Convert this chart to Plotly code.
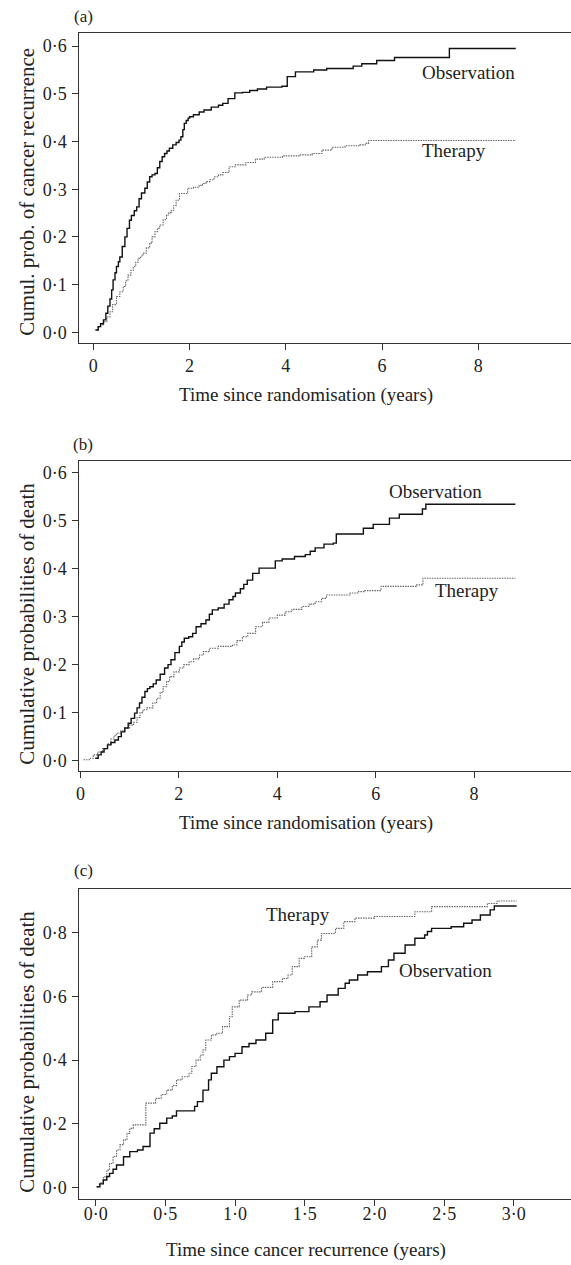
import plotly.graph_objects as go

# ---------------- data ----------------
# Panel (a): cumulative probability of cancer recurrence vs time since randomisation
A_OBS_T = [0.05, 0.10, 0.15, 0.21, 0.26, 0.30, 0.345, 0.38, 0.41, 0.45,
           0.48, 0.52, 0.55, 0.60, 0.655, 0.70, 0.75, 0.79, 0.85, 0.90,
           0.95, 1.00, 1.07, 1.12, 1.17, 1.22, 1.28, 1.33, 1.38, 1.43,
           1.48, 1.53, 1.58, 1.65, 1.72, 1.78, 1.82, 1.86, 1.89, 1.93,
           1.97, 2.00, 2.08, 2.20, 2.30, 2.45, 2.60, 2.69, 2.80, 2.94,
           3.10, 3.25, 3.41, 3.60, 3.92, 4.03, 4.20, 4.58, 4.85, 5.40,
           5.58, 5.89, 6.26, 7.40, 8.78]
A_OBS_P = [0.005, 0.012, 0.018, 0.026, 0.040, 0.055, 0.070, 0.089, 0.110, 0.125,
           0.138, 0.148, 0.158, 0.180, 0.200, 0.218, 0.235, 0.245, 0.255, 0.263,
           0.280, 0.292, 0.302, 0.315, 0.326, 0.330, 0.333, 0.345, 0.358, 0.368,
           0.375, 0.380, 0.386, 0.393, 0.398, 0.403, 0.410, 0.425, 0.438, 0.444,
           0.449, 0.452, 0.456, 0.462, 0.466, 0.472, 0.476, 0.480, 0.490, 0.502,
           0.503, 0.507, 0.510, 0.514, 0.516, 0.536, 0.546, 0.550, 0.553, 0.558,
           0.563, 0.570, 0.576, 0.595, 0.595]
A_THR_T = [0.03, 0.10, 0.15, 0.21, 0.28, 0.345, 0.40, 0.48, 0.55, 0.62,
           0.67, 0.72, 0.78, 0.83, 0.88, 0.93, 0.98, 1.03, 1.10, 1.17,
           1.22, 1.28, 1.33, 1.38, 1.45, 1.52, 1.57, 1.62, 1.67, 1.72,
           1.79, 1.96, 2.08, 2.20, 2.27, 2.34, 2.42, 2.51, 2.60, 2.69,
           2.82, 2.95, 3.17, 3.37, 3.55, 3.93, 4.30, 4.55, 4.75, 4.96,
           5.23, 5.54, 5.65, 5.72, 8.78]
A_THR_P = [0.005, 0.012, 0.016, 0.022, 0.032, 0.043, 0.058, 0.075, 0.085, 0.096,
           0.108, 0.120, 0.130, 0.138, 0.147, 0.155, 0.160, 0.166, 0.177, 0.187,
           0.200, 0.211, 0.218, 0.225, 0.236, 0.246, 0.251, 0.256, 0.266, 0.277,
           0.291, 0.302, 0.304, 0.308, 0.312, 0.316, 0.320, 0.326, 0.330, 0.335,
           0.347, 0.351, 0.356, 0.363, 0.367, 0.370, 0.372, 0.375, 0.382, 0.388,
           0.391, 0.393, 0.396, 0.402, 0.402]

# Panel (b): cumulative probability of death vs time since randomisation
B_OBS_T = [0.30, 0.36, 0.42, 0.48, 0.55, 0.62, 0.70, 0.77, 0.83, 0.90,
           0.97, 1.03, 1.10, 1.15, 1.20, 1.25, 1.31, 1.36, 1.41, 1.48,
           1.54, 1.62, 1.71, 1.78, 1.84, 1.92, 2.01, 2.06, 2.11, 2.20,
           2.28, 2.35, 2.45, 2.55, 2.62, 2.68, 2.80, 2.92, 3.02, 3.10,
           3.15, 3.25, 3.32, 3.39, 3.50, 3.63, 3.96, 4.10, 4.35, 4.57,
           4.67, 4.77, 4.95, 5.14, 5.20, 5.75, 5.95, 6.28, 6.48, 6.95,
           7.02, 8.84]
B_OBS_P = [0.005, 0.012, 0.018, 0.025, 0.033, 0.038, 0.043, 0.050, 0.060, 0.068,
           0.078, 0.088, 0.099, 0.110, 0.120, 0.132, 0.144, 0.150, 0.154, 0.160,
           0.168, 0.180, 0.193, 0.200, 0.210, 0.225, 0.238, 0.247, 0.255, 0.258,
           0.265, 0.279, 0.285, 0.293, 0.305, 0.314, 0.318, 0.326, 0.335, 0.342,
           0.349, 0.358, 0.367, 0.376, 0.390, 0.401, 0.416, 0.420, 0.425, 0.429,
           0.436, 0.443, 0.451, 0.453, 0.472, 0.484, 0.492, 0.505, 0.513, 0.524,
           0.534, 0.534]
B_THR_T = [0.06, 0.20, 0.26, 0.35, 0.45, 0.55, 0.62, 0.68, 0.73, 0.82,
           0.90, 1.00, 1.08, 1.15, 1.21, 1.27, 1.35, 1.47, 1.55, 1.62,
           1.68, 1.75, 1.81, 1.90, 2.01, 2.10, 2.21, 2.30, 2.42, 2.50,
           2.62, 2.80, 3.09, 3.18, 3.29, 3.40, 3.56, 3.70, 3.83, 4.00,
           4.16, 4.30, 4.50, 4.65, 4.77, 4.90, 5.00, 5.48, 5.65, 5.78,
           6.11, 6.82, 6.96, 8.84]
B_THR_P = [0.002, 0.005, 0.012, 0.018, 0.025, 0.035, 0.045, 0.052, 0.057, 0.062,
           0.068, 0.074, 0.080, 0.090, 0.100, 0.106, 0.110, 0.120, 0.130, 0.142,
           0.154, 0.165, 0.175, 0.185, 0.193, 0.200, 0.206, 0.212, 0.220, 0.227,
           0.234, 0.238, 0.241, 0.250, 0.258, 0.265, 0.279, 0.288, 0.297, 0.303,
           0.310, 0.315, 0.321, 0.326, 0.331, 0.338, 0.345, 0.349, 0.352, 0.354,
           0.363, 0.366, 0.380, 0.380]

# Panel (c): cumulative probability of death vs time since cancer recurrence
C_OBS_T = [0.007, 0.03, 0.055, 0.08, 0.10, 0.125, 0.15, 0.20, 0.245, 0.30,
           0.34, 0.39, 0.42, 0.46, 0.51, 0.55, 0.58, 0.71, 0.73, 0.77, 0.81,
           0.83, 0.87, 0.92, 0.96, 1.00, 1.05, 1.10, 1.15, 1.22, 1.27,
           1.31, 1.43, 1.53, 1.61, 1.66, 1.74, 1.79, 1.82, 1.88, 1.95,
           2.05, 2.10, 2.14, 2.22, 2.29, 2.36, 2.38, 2.41, 2.55, 2.64,
           2.70, 2.76, 2.83, 2.86, 3.02]
C_OBS_P = [0.003, 0.012, 0.024, 0.035, 0.045, 0.058, 0.071, 0.097, 0.113, 0.118,
           0.129, 0.171, 0.185, 0.202, 0.218, 0.225, 0.241, 0.255, 0.270, 0.306, 0.338,
           0.359, 0.379, 0.400, 0.411, 0.421, 0.442, 0.452, 0.463, 0.484, 0.526,
           0.547, 0.552, 0.567, 0.583, 0.604, 0.625, 0.641, 0.651, 0.667, 0.677,
           0.693, 0.714, 0.735, 0.761, 0.782, 0.792, 0.803, 0.813, 0.818, 0.829,
           0.839, 0.855, 0.871, 0.883, 0.883]
C_THR_T = [0.007, 0.03, 0.055, 0.08, 0.10, 0.125, 0.15, 0.175, 0.20, 0.225,
           0.245, 0.27, 0.36, 0.43, 0.47, 0.51, 0.55, 0.58, 0.62, 0.67,
           0.69, 0.72, 0.75, 0.77, 0.79, 0.83, 0.87, 0.91, 0.96, 0.98,
           1.03, 1.09, 1.12, 1.19, 1.27, 1.34, 1.38, 1.41, 1.46, 1.50,
           1.55, 1.59, 1.62, 1.72, 1.78, 1.86, 2.00, 2.29, 2.41, 2.81,
           2.88, 3.02]
C_THR_P = [0.003, 0.015, 0.034, 0.055, 0.076, 0.098, 0.118, 0.135, 0.150, 0.170,
           0.186, 0.197, 0.265, 0.280, 0.292, 0.306, 0.320, 0.338, 0.348, 0.359,
           0.380, 0.400, 0.415, 0.432, 0.463, 0.479, 0.484, 0.505, 0.536, 0.567,
           0.588, 0.604, 0.614, 0.628, 0.646, 0.656, 0.667, 0.693, 0.719, 0.724,
           0.755, 0.776, 0.797, 0.813, 0.834, 0.845, 0.850, 0.865, 0.881, 0.891,
           0.899, 0.899]

for a, b in [(A_OBS_T, A_OBS_P), (A_THR_T, A_THR_P), (B_OBS_T, B_OBS_P),
             (B_THR_T, B_THR_P), (C_OBS_T, C_OBS_P), (C_THR_T, C_THR_P)]:
    assert len(a) == len(b), (len(a), len(b))

AB_YTICKS = [0.0, 0.1, 0.2, 0.3, 0.4, 0.5, 0.6]
AB_YTEXT = ["0·0", "0·1", "0·2", "0·3", "0·4", "0·5", "0·6"]
AB_XTICKS = [0, 2, 4, 6, 8]
AB_XTEXT = ["0", "2", "4", "6", "8"]
C_YTICKS = [0.0, 0.2, 0.4, 0.6, 0.8]
C_YTEXT = ["0·0", "0·2", "0·4", "0·6", "0·8"]
C_XTICKS = [0.0, 0.5, 1.0, 1.5, 2.0, 2.5, 3.0]
C_XTEXT = ["0·0", "0·5", "1·0", "1·5", "2·0", "2·5", "3·0"]

# ---------------- figure ----------------
W, H = 571, 1265
FONT = "Liberation Serif"
TXT = "#222222"

def px_x(p):
    return p / W

def px_y(p):
    return 1 - p / H

fig = go.Figure()

obs_line = dict(color="#111111", width=1.4, shape="hv")
thr_line = dict(color="#666666", width=1.1, shape="hv", dash="1.5px,1px")

panels = [
    ("", A_OBS_T, A_OBS_P, A_THR_T, A_THR_P),
    ("2", B_OBS_T, B_OBS_P, B_THR_T, B_THR_P),
    ("3", C_OBS_T, C_OBS_P, C_THR_T, C_THR_P),
]
for sfx, ot, op, tt, tp in panels:
    fig.add_trace(go.Scatter(x=tt, y=tp, mode="lines", line=thr_line,
                             xaxis="x" + sfx, yaxis="y" + sfx, showlegend=False,
                             hoverinfo="skip"))
    fig.add_trace(go.Scatter(x=ot, y=op, mode="lines", line=obs_line,
                             xaxis="x" + sfx, yaxis="y" + sfx, showlegend=False,
                             hoverinfo="skip"))

tickfont = dict(family=FONT, size=18, color=TXT)
common_x = dict(showgrid=False, zeroline=False, showline=True, linecolor="#333333",
                linewidth=1.3, mirror=True, ticks="outside", ticklen=6,
                tickwidth=1, tickcolor="#333333", tickfont=tickfont)
common_y = dict(showgrid=False, zeroline=False, showline=True, linecolor="#333333",
                linewidth=1.3, ticks="outside", ticklen=6, tickwidth=1,
                tickcolor="#333333", tickfont=tickfont, ticklabelstandoff=2)

xdom = [px_x(76), 1.0]
layout = dict(
    width=W, height=H, margin=dict(l=0, r=0, t=0, b=0),
    paper_bgcolor="white", plot_bgcolor="white", showlegend=False,
    xaxis=dict(domain=xdom, range=[-0.289, 9.928], anchor="y",
               tickvals=AB_XTICKS, ticktext=AB_XTEXT, ticklabelstandoff=0, **common_x),
    yaxis=dict(domain=[px_y(343), px_y(33)], range=[-0.0224, 0.6275], anchor="x",
               tickvals=AB_YTICKS, ticktext=AB_YTEXT, **common_y),
    xaxis2=dict(domain=xdom, range=[-0.0202, 9.97], anchor="y2",
                tickvals=AB_XTICKS, ticktext=AB_XTEXT, ticklabelstandoff=0, **common_x),
    yaxis2=dict(domain=[px_y(771), px_y(461)], range=[-0.0215, 0.624], anchor="x2",
                tickvals=AB_YTICKS, ticktext=AB_YTEXT, **common_y),
    xaxis3=dict(domain=xdom, range=[-0.116, 3.41], anchor="y3",
                tickvals=C_XTICKS, ticktext=C_XTEXT, ticklabelstandoff=-8, **common_x),
    yaxis3=dict(domain=[px_y(1199), px_y(889)], range=[-0.0354, 0.9364], anchor="x3",
                tickvals=C_YTICKS, ticktext=C_YTEXT, **common_y),
)
fig.update_layout(**layout)

def note(text, x, y, size=19, angle=0):
    fig.add_annotation(text=text, x=px_x(x), y=px_y(y), xref="paper", yref="paper",
                       showarrow=False, textangle=angle, xanchor="center",
                       yanchor="middle", font=dict(family=FONT, size=size, color=TXT))

# panel letters
note("(a)", 80, 16, 17)
note("(b)", 80, 445, 17)
note("(c)", 80, 870, 17)

# series labels
note("Observation", 468, 72)
note("Therapy", 453, 151)
note("Observation", 435, 491)
note("Therapy", 466, 590)
note("Therapy", 296, 914)
note("Observation", 445, 970)

# axis titles
note("Time since randomisation (years)", 304, 395)
note("Time since randomisation (years)", 304, 823)
note("Time since cancer recurrence (years)", 304, 1250)
note("Cumul. prob. of cancer recurrence", 23, 192, size=21, angle=-90)
note("Cumulative probabilities of death", 23, 624, size=21, angle=-90)
note("Cumulative probabilities of death", 23, 1052, size=21, angle=-90)

fig.write_html("out.html", config={"displayModeBar": False},
               post_script="document.body.style.margin='0';")
